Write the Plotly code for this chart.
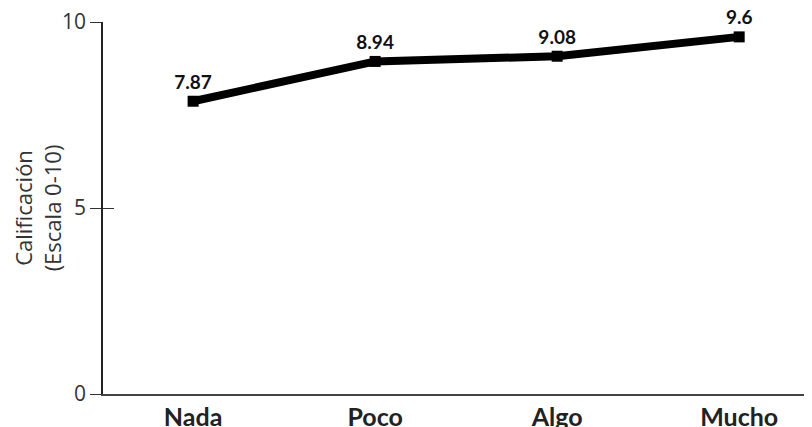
import plotly.graph_objects as go

categories = ["Nada", "Poco", "Algo", "Mucho"]
values = [7.87, 8.94, 9.08, 9.6]
value_labels = ["7.87", "8.94", "9.08", "9.6"]
y_ticks = [0, 5, 10]

SANS = "Open Sans, Noto Sans, sans-serif"

fig = go.Figure()
fig.add_trace(go.Scatter(
    x=categories, y=values,
    mode="lines+markers+text",
    line=dict(color="black", width=8),
    marker=dict(symbol="square", size=11, color="black"),
    text=value_labels,
    textposition="top center",
    textfont=dict(family="Lato", size=19, color="#111111", weight="bold"),
    cliponaxis=False,
    showlegend=False,
))
# invisible companion trace so the inner tick axis is drawn
fig.add_trace(go.Scatter(
    x=categories, y=values, yaxis="y2",
    mode="lines", line=dict(width=0, color="rgba(0,0,0,0)"),
    hoverinfo="skip", showlegend=False,
))

fig.update_layout(
    width=804, height=419,
    margin=dict(l=95, r=0, t=14, b=33),
    paper_bgcolor="white", plot_bgcolor="white",
    font=dict(family=SANS, size=21, color="#333333"),
    xaxis=dict(
        type="category", range=[-0.495, 3.40],
        showline=True, linecolor="#444444", linewidth=2,
        ticks="", showgrid=False, zeroline=False, automargin=False,
        tickfont=dict(family="Lato", size=25, color="#222222", weight="bold"),
        ticklabelstandoff=0,
    ),
    yaxis=dict(
        range=[0, 10], tickvals=y_ticks,
        showline=True, linecolor="#222222", linewidth=1.5,
        ticks="outside", ticklen=11, tickwidth=1.2, tickcolor="#333333",
        showgrid=False, zeroline=False, automargin=False,
        ticklabeloverflow="allow",
        tickfont=dict(family=SANS, size=21, color="#333333"),
        title=dict(text="Calificación<br>(Escala 0-10)",
                   font=dict(family=SANS, size=22, color="#333333"),
                   standoff=6),
    ),
    yaxis2=dict(
        range=[0, 10], tickvals=y_ticks, overlaying="y", side="left",
        anchor="x", automargin=False,
        ticks="inside", ticklen=11, tickwidth=1.2, tickcolor="#333333",
        showticklabels=False, showgrid=False, zeroline=False, showline=False,
    ),
)

fig.write_html("out.html")
